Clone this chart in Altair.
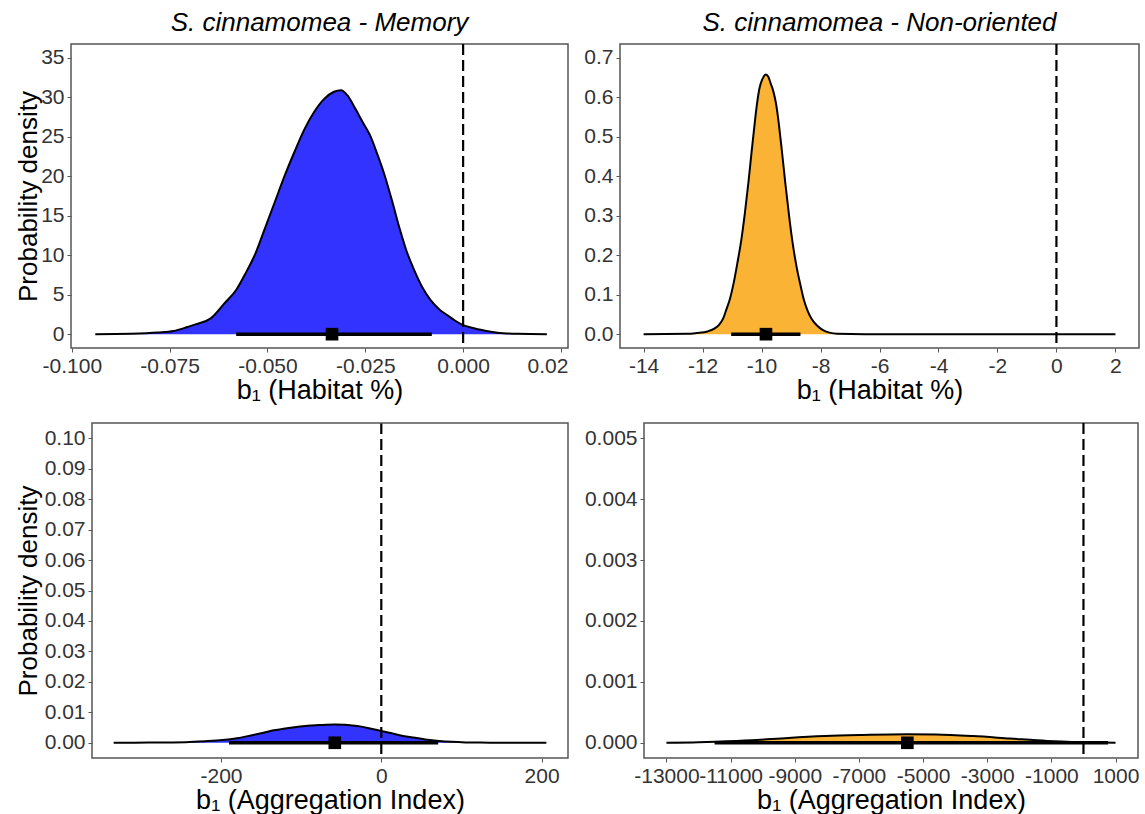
import altair as alt
import pandas as pd

FONT = "Liberation Sans"
BLUE = "#3333ff"
ORANGE = "#fbb335"
FRAME = "#555555"
MINUS = "\u2212"

# Posterior densities of b1 (x = coefficient value, y = density)
mem_hab_x = [-0.094, -0.085, -0.078, -0.074, -0.0705, -0.068, -0.0645, -0.061, -0.058,
             -0.0555, -0.053, -0.0505, -0.048, -0.0455, -0.043, -0.0405, -0.038, -0.0355,
             -0.033, -0.0312, -0.0295, -0.0276, -0.0255, -0.0238, -0.022, -0.0201, -0.018,
             -0.0163, -0.0145, -0.0125, -0.0105, -0.0083, -0.006, -0.004, -0.002, 0.0,
             0.0025, 0.0045, 0.0075, 0.0102, 0.014, 0.0214]
mem_hab_y = [0, 0.05, 0.2, 0.4, 0.9, 1.3, 2.0, 3.9, 5.6,
             7.8, 10.3, 13.6, 16.9, 20.2, 23.2, 26.0, 28.2, 29.8,
             30.7, 30.9, 30.2, 28.6, 26.7, 25.2, 22.9, 20.2, 16.6,
             13.5, 10.6, 8.1, 6.0, 4.3, 3.1, 2.4, 1.7, 1.15,
             0.8, 0.55, 0.28, 0.13, 0.04, 0]

non_hab_x = [-14, -12.5, -12.2, -11.83, -11.6, -11.45, -11.3, -11.2, -11.07, -10.95,
             -10.82, -10.69, -10.56, -10.44, -10.34, -10.25, -10.16, -10.07, -9.96, -9.85,
             -9.77, -9.69, -9.6, -9.5, -9.41, -9.31, -9.19, -9.06, -8.94, -8.81,
             -8.68, -8.56, -8.43, -8.31, -8.12, -7.93, -7.7, -7.43, -6.5, 2]
non_hab_y = [0, 0.001, 0.003, 0.007, 0.014, 0.023, 0.04, 0.061, 0.09, 0.128,
             0.18, 0.237, 0.31, 0.388, 0.46, 0.522, 0.58, 0.623, 0.648, 0.658,
             0.652, 0.635, 0.615, 0.58, 0.53, 0.464, 0.38, 0.296, 0.228, 0.17,
             0.124, 0.086, 0.058, 0.04, 0.022, 0.011, 0.004, 0.001, 0, 0]

mem_agg_x = [-334, -290, -244, -220, -198, -180, -161, -147, -134, -120, -106, -92,
             -78, -58, -45, -37, -25, -14, 0, 12, 23, 40, 55, 72, 88, 105, 124, 160, 206]
mem_agg_y = [0, 0.00005, 0.0002, 0.0005, 0.0009, 0.0015, 0.0025, 0.0033, 0.0041,
             0.0047, 0.0052, 0.0056, 0.0058, 0.0060, 0.0059, 0.0057, 0.0053, 0.0047,
             0.0039, 0.0032, 0.0025, 0.0017, 0.0011, 0.0006, 0.0003, 0.00012, 0.00005,
             0, 0]

non_agg_x = [-13000, -12000, -11500, -10350, -9200, -8050, -6900, -5500, -4600,
             -3440, -2290, -1130, 0, 1000]
non_agg_y = [0, 0.000008, 0.000016, 0.00004, 0.00008, 0.00011, 0.000127, 0.00014,
             0.000136, 0.00011, 0.00007, 0.00003, 0.00001, 0]

# Credible intervals (low, median, high)
mem_hab_ci = [-0.058, -0.0335, -0.008]
non_hab_ci = [-11.03, -9.85, -8.68]
mem_agg_ci = [-190, -58, 71]
non_agg_ci = [-11500, -5490, 770]

# Axis ticks
mem_hab_xticks = [-0.1, -0.075, -0.05, -0.025, 0.0, 0.025]
non_hab_xticks = [-14, -12, -10, -8, -6, -4, -2, 0, 2]
mem_agg_xticks = [-200, 0, 200]
non_agg_xticks = [-13000, -11000, -9000, -7000, -5000, -3000, -1000, 1000]
mem_hab_yticks = [0, 5, 10, 15, 20, 25, 30, 35]
non_hab_yticks = [0, 0.1, 0.2, 0.3, 0.4, 0.5, 0.6, 0.7]
mem_agg_yticks = [0, 0.01, 0.02, 0.03, 0.04, 0.05, 0.06, 0.07, 0.08, 0.09, 0.10]
non_agg_yticks = [0, 0.001, 0.002, 0.003, 0.004, 0.005]


def fmt(spec):
    return f"replace(format(datum.value, '{spec}'), '{MINUS}', '-')"


def panel(xs, ys, ci, fill, xdom, ydom, xticks, yticks, xlabel_expr, ylabel_expr,
          xtitle, width, height, ytitle=None, yext=None, ytitle_pad=None,
          title=None, xaxis_extra=None, inset=0):
    """One density panel. `inset` pushes the framed plot area right inside a
    wider view so that panels with wider tick labels still share a left title column."""
    curve = pd.DataFrame({"x": xs, "y": ys})
    zero = pd.DataFrame({"x": [0.0]})
    interval = pd.DataFrame({"x": [ci[0]], "x_hi": [ci[2]], "y": [0.0]})
    median = pd.DataFrame({"x": [ci[1]], "y": [0.0]})

    view_w = width + inset
    xaxis_kw = dict(values=xticks, labelExpr=xlabel_expr, title=xtitle,
                    titleFontSize=27, titlePadding=1)
    if inset:
        xaxis_kw["titleX"] = inset + width / 2
    if xaxis_extra:
        xaxis_kw.update(xaxis_extra)
    yaxis_kw = dict(values=yticks, labelExpr=ylabel_expr)
    if ytitle is not None:
        yaxis_kw.update(title=ytitle, titlePadding=ytitle_pad)
    else:
        yaxis_kw.update(title=None)
    if yext is not None:
        yaxis_kw.update(minExtent=yext, maxExtent=yext)
    if inset:
        yaxis_kw["offset"] = -inset

    xscale = dict(domain=xdom, nice=False, zero=False)
    if inset:
        xscale["range"] = [inset, view_w]
    X = alt.X("x:Q", scale=alt.Scale(**xscale), axis=alt.Axis(**xaxis_kw))
    Y = alt.Y("y:Q", scale=alt.Scale(domain=ydom, nice=False, zero=False),
              axis=alt.Axis(**yaxis_kw))

    area = alt.Chart(curve).mark_area(color=fill, interpolate="monotone").encode(x=X, y=Y)
    line = alt.Chart(curve).mark_line(color="black", strokeWidth=2,
                                      interpolate="monotone").encode(x=X, y=Y)
    vline = alt.Chart(zero).mark_rule(color="black", strokeWidth=2.2,
                                      strokeDash=[11, 5]).encode(x=X)
    ci_rule = alt.Chart(interval).mark_rule(color="black", strokeWidth=3.5,
                                            strokeCap="butt").encode(
        x=X, x2="x_hi:Q", y=Y)
    med = alt.Chart(median).mark_square(color="black", size=160,
                                        opacity=1).encode(x=X, y=Y)
    layers = [area, line, vline, ci_rule, med]

    props = dict(width=view_w, height=height)
    if inset:
        # panel border drawn around the inset plot area instead of the whole view
        border = alt.Chart(pd.DataFrame({"b": [0]})).mark_rect(
            fill="transparent", stroke=FRAME, strokeWidth=1.5
        ).encode(x=alt.value(inset), x2=alt.value(view_w),
                 y=alt.value(0), y2=alt.value(height))
        layers.append(border)
        props["view"] = alt.ViewBackground(strokeOpacity=0)
    if title is not None:
        props["title"] = alt.TitleParams(text=title, font=FONT, fontSize=26,
                                         fontStyle="italic", fontWeight="normal",
                                         color="black", anchor="middle",
                                         frame="group", offset=7)
    return alt.layer(*layers).properties(**props)


# the last tick label of the upper-left panel is cut back to "0.02" at the panel edge
last_tick = "datum.value > 0.02"
tl = panel(mem_hab_x, mem_hab_y, mem_hab_ci, BLUE, [-0.1002, 0.0268], [-1.75, 36.75],
           mem_hab_xticks, mem_hab_yticks,
           f"{last_tick} ? '0.02' : {fmt('.3f')}", fmt("d"),
           "b\u2081 (Habitat %)", 497, 304,
           ytitle="Probability density", yext=26, ytitle_pad=4,
           title="S. cinnamomea - Memory",
           xaxis_extra=dict(
               labelAlign={"condition": {"test": last_tick, "value": "right"},
                           "value": "center"},
               labelOffset={"condition": {"test": last_tick, "value": 7},
                            "value": 0}))
tr = panel(non_hab_x, non_hab_y, non_hab_ci, ORANGE, [-14.8, 2.8], [-0.035, 0.735],
           non_hab_xticks, non_hab_yticks, fmt("d"), fmt(".1f"),
           "b\u2081 (Habitat %)", 519, 304,
           title="S. cinnamomea - Non-oriented")
bl = panel(mem_agg_x, mem_agg_y, mem_agg_ci, BLUE, [-361, 233], [-0.005, 0.105],
           mem_agg_xticks, mem_agg_yticks, fmt("d"), fmt(".2f"),
           "b\u2081 (Aggregation Index)", 476, 335,
           ytitle="Probability density", yext=47, ytitle_pad=4, inset=21)
br = panel(non_agg_x, non_agg_y, non_agg_ci, ORANGE, [-13700, 1700], [-0.00025, 0.00525],
           non_agg_xticks, non_agg_yticks, fmt("d"), fmt(".3f"),
           "b\u2081 (Aggregation Index)", 494, 335)

chart = alt.concat(
    tl, tr, bl, br, columns=2,
    align={"row": "each", "column": "none"},
    spacing={"row": 17, "column": 14},
).properties(
    padding={"left": 14, "top": 9, "right": 0, "bottom": 0}
).configure_view(
    stroke=FRAME, strokeWidth=1.5
).configure_axis(
    labelFont=FONT, labelFontSize=21, labelColor="#333333",
    titleFont=FONT, titleFontSize=26, titleColor="black", titleFontWeight="normal",
    tickColor=FRAME, tickSize=4, tickWidth=1, labelPadding=3, titlePadding=1,
    domain=False, grid=False, labelOverlap=False, labelFlush=False
)

chart.save("out.html", embed_options={"renderer": "svg", "actions": False})
